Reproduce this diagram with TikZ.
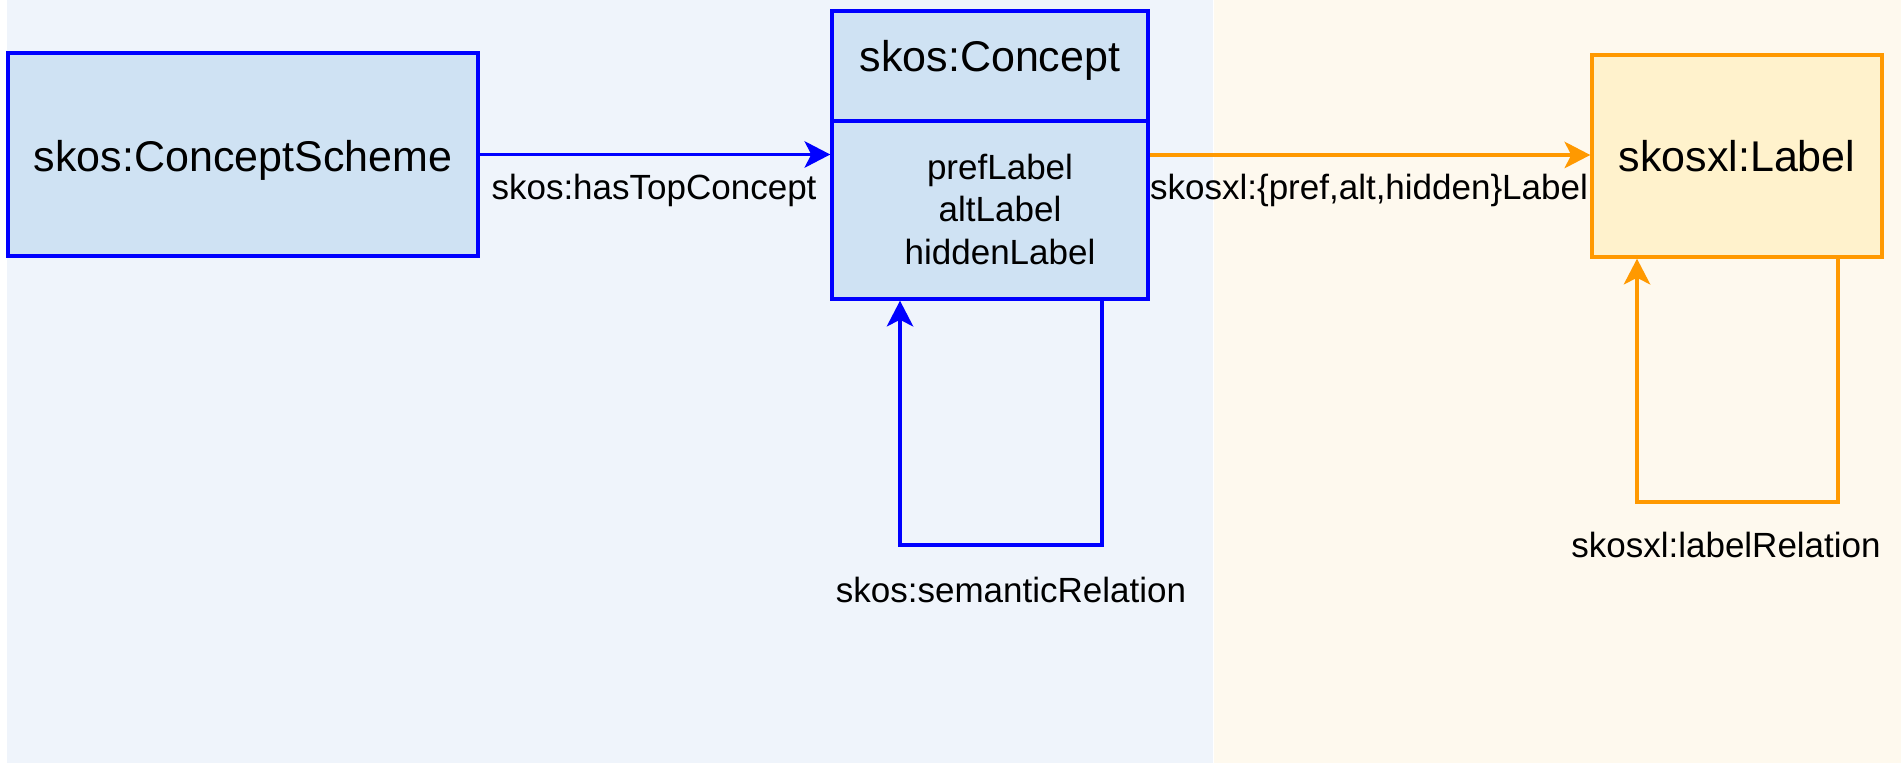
\documentclass[tikz,border=0pt]{standalone}
\usepackage{fontspec}
\setmainfont{Liberation Sans}
\usetikzlibrary{arrows.meta}
\definecolor{bgblue}{RGB}{239,244,251}
\definecolor{bgyellow}{RGB}{254,249,238}
\definecolor{boxblue}{RGB}{207,226,243}
\definecolor{lineblue}{RGB}{0,0,255}
\definecolor{boxyellow}{RGB}{255,242,204}
\definecolor{lineorange}{RGB}{255,153,0}
\tikzset{
  bigtext/.style={font=\fontsize{43}{52}\selectfont},
  smalltext/.style={font=\fontsize{35}{42.5}\selectfont},
  bluebox/.style={draw=lineblue, fill=boxblue, line width=3.5pt, inner sep=0pt},
  orangebox/.style={draw=lineorange, fill=boxyellow, line width=3.5pt, inner sep=0pt},
  arrowtip/.style={-{Stealth[length=26pt,width=27pt,inset=7pt,line width=0pt]}},
  bluearrow/.style={draw=lineblue, line width=3.5pt, arrowtip},
  orangearrow/.style={draw=lineorange, line width=3.5pt, arrowtip},
}
\begin{document}
\begin{tikzpicture}[x=1pt,y=1pt]
\useasboundingbox (0,0) rectangle (1901,763);
\fill[bgblue] (7,0) rectangle (1213,763);
\fill[bgyellow] (1214,0) rectangle (1901,763);

\node[bluebox, minimum width=470pt, minimum height=203pt] (scheme) at (243,608.5) {};
\node[bigtext, anchor=base] (schemetext) at (243,591) {skos:ConceptScheme};

\node[bluebox, minimum width=316pt, minimum height=288pt] (concept) at (990,608) {};
\draw[lineblue, line width=3.5pt] (concept.west |- 0,642) -- (concept.east |- 0,642);
\node[bigtext, anchor=base] (ctitle) at (990,691) {skos:Concept};
\node[smalltext, anchor=base] (a1) at (1000,583) {prefLabel};
\node[smalltext, anchor=base] (a2) at (1000,541) {altLabel};
\node[smalltext, anchor=base] (a3) at (1000,498) {hiddenLabel};

\node[orangebox, minimum width=290pt, minimum height=202pt] (label) at (1737,607) {};
\node[bigtext, anchor=base] (labeltext) at (1737,591) {skosxl:Label};

\draw[bluearrow] (scheme.east) -- (concept.west |- scheme.east);
\node[smalltext, anchor=base] (l1) at (654,563) {skos:hasTopConcept};

\draw[orangearrow] (concept.east) -- (label.west |- concept.east);
\node[smalltext, anchor=base] (l2) at (1369,563) {skosxl:\{pref,alt,hidden\}Label};

\coordinate (c1) at (1102,218);
\coordinate (c2) at (900,218);
\draw[bluearrow] (c1 |- concept.south) -- (c1) -- (c2) -- (c2 |- concept.south);
\node[smalltext, anchor=base] (l3) at (1011,160) {skos:semanticRelation};

\coordinate (d1) at (1838,261);
\coordinate (d2) at (1637,261);
\draw[orangearrow] (d1 |- label.south) -- (d1) -- (d2) -- (d2 |- label.south);
\node[smalltext, anchor=base] (l4) at (1726,205) {skosxl:labelRelation};
\end{tikzpicture}
\end{document}
